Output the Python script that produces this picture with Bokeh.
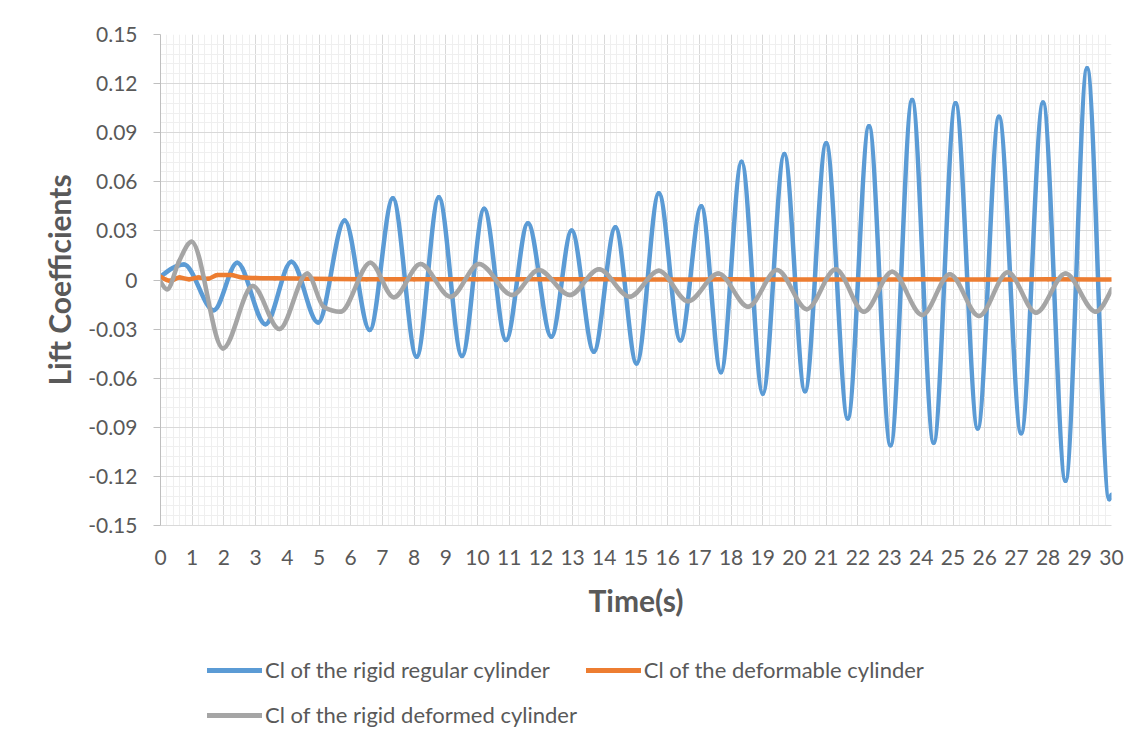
import numpy as np
from bokeh.plotting import figure
from bokeh.layouts import column
from bokeh.models import Range1d, FixedTicker, Legend, LegendItem, ColumnDataSource
from bokeh.embed import file_html
from bokeh.resources import INLINE

# ---- data (turning points of each curve) ----
rigid_regular_t = [0.0, 0.74, 1.68, 2.42, 3.31, 4.13, 4.97, 5.81, 6.6, 7.33, 8.08, 8.78,
                   9.51, 10.21, 10.9, 11.59, 12.33, 12.97, 13.67, 14.35, 15.02, 15.72,
                   16.4, 17.06, 17.68, 18.33, 19.0, 19.68, 20.33, 21.0, 21.68, 22.35,
                   23.03, 23.71, 24.39, 25.08, 25.78, 26.45, 27.15, 27.84, 28.55, 29.23,
                   29.93, 30.0]
rigid_regular_cl = [0.002, 0.0095, -0.0185, 0.0105, -0.027, 0.0112, -0.026, 0.0363,
                    -0.0306, 0.0499, -0.0469, 0.0505, -0.0465, 0.0435, -0.0367, 0.0347,
                    -0.0347, 0.0302, -0.0438, 0.0322, -0.051, 0.053, -0.037, 0.045,
                    -0.0563, 0.0723, -0.0695, 0.077, -0.068, 0.0836, -0.0846, 0.094,
                    -0.101, 0.110, -0.0994, 0.108, -0.0907, 0.0998, -0.0937, 0.1084,
                    -0.1227, 0.1294, -0.1340, -0.1312]

deformable_t = [0.0, 0.3, 0.6, 0.9, 1.2, 1.5, 1.8, 2.2, 2.6, 3.0, 3.6, 4.5, 5.5, 6.5,
                8.0, 10.0, 12.0, 14.0, 16.0, 18.0, 20.0, 22.0, 24.0, 26.0, 28.0, 30.0]
deformable_cl = [0.002, -0.0005, 0.0015, 0.0005, 0.0015, 0.0008, 0.003, 0.003, 0.0015,
                 0.0012, 0.001, 0.0008, 0.0006, 0.0005, 0.0004, 0.0005, 0.0004, 0.0004,
                 0.0003, 0.0004, 0.0003, 0.0003, 0.0004, 0.0003, 0.0004, 0.0003]

rigid_deformed_t = [0.0, 0.21, 0.58, 0.98, 1.97, 2.91, 3.75, 4.63, 5.15, 5.68, 6.62, 7.36,
                    8.2, 9.15, 10.05, 11.09, 11.93, 12.91, 13.83, 14.8, 15.72, 16.64,
                    17.6, 18.54, 19.45, 20.39, 21.3, 22.19, 23.08, 24.03, 24.9, 25.82,
                    26.73, 27.62, 28.55, 29.5, 30.0]
rigid_deformed_cl = [-0.001, -0.0057, 0.0112, 0.0234, -0.0418, -0.0037, -0.030, 0.004,
                     -0.0165, -0.0194, 0.0106, -0.0106, 0.0098, -0.0102, 0.0098, -0.0092,
                     0.0061, -0.0092, 0.0065, -0.0102, 0.0057, -0.013, 0.004, -0.0163,
                     0.0061, -0.0178, 0.0066, -0.0194, 0.0051, -0.0214, 0.0035, -0.022,
                     0.0047, -0.020, 0.004, -0.0194, -0.0057]

series_names = ["Cl of the rigid regular cylinder", "Cl of the deformable cylinder",
                "Cl of the rigid deformed cylinder"]

x_ticks = list(range(0, 31))
x_tick_labels = [str(i) for i in x_ticks]
y_ticks = [-0.15, -0.12, -0.09, -0.06, -0.03, 0, 0.03, 0.06, 0.09, 0.12, 0.15]
y_tick_labels = ["-0.15", "-0.12", "-0.09", "-0.06", "-0.03", "0", "0.03", "0.06",
                 "0.09", "0.12", "0.15"]

BLUE, ORANGE, GREY = "#5B9BD5", "#ED7D31", "#A5A5A5"
TEXT = "#595959"
FONT = "Lato"


def smooth_segments(xs, ys):
    """Monotone cubic (like a smoothed Excel line) expressed as Bezier segments."""
    x = np.asarray(xs, float)
    y = np.asarray(ys, float)
    n = len(x)
    h = np.diff(x)
    s = np.diff(y) / h
    m = np.zeros(n)
    for i in range(1, n - 1):
        h0, h1, s0, s1 = h[i - 1], h[i], s[i - 1], s[i]
        pp = (s0 * h1 + s1 * h0) / (h0 + h1)
        m[i] = (np.sign(s0) + np.sign(s1)) * min(abs(s0), abs(s1), 0.5 * abs(pp))
    m[0] = (3 * s[0] - m[1]) / 2
    m[-1] = (3 * s[-1] - m[-2]) / 2
    return ColumnDataSource(dict(
        x0=x[:-1], y0=y[:-1], x1=x[1:], y1=y[1:],
        cx0=x[:-1] + h / 3, cy0=y[:-1] + m[:-1] * h / 3,
        cx1=x[1:] - h / 3, cy1=y[1:] - m[1:] * h / 3,
    ))


W = 1127
H_MAIN = 640
H_LEG = 93

p = figure(width=W, height=H_MAIN, output_backend="svg", toolbar_location=None,
           x_range=Range1d(0, 30), y_range=Range1d(-0.15, 0.15),
           min_border_left=160, min_border_right=16, min_border_top=34,
           min_border_bottom=115)
p.outline_line_color = None
p.background_fill_color = "white"
p.border_fill_color = "white"

minor_x = [v / 5 for v in range(0, 151)]
minor_y = [v * 0.006 for v in range(-25, 26)]
p.xaxis.ticker = FixedTicker(ticks=x_ticks, minor_ticks=minor_x)
p.yaxis.ticker = FixedTicker(ticks=y_ticks, minor_ticks=minor_y)
p.xaxis.major_label_overrides = {t: l for t, l in zip(x_ticks, x_tick_labels)}
p.yaxis.major_label_overrides = {t: l for t, l in zip(y_ticks, y_tick_labels)}

for g in (p.xgrid, p.ygrid):
    g.grid_line_color = "#D9D9D9"
    g.grid_line_width = 1
    g.minor_grid_line_color = "#EFEFEF"
    g.minor_grid_line_width = 1

for ax in (p.xaxis, p.yaxis):
    ax.major_label_text_font = FONT
    ax.major_label_text_font_size = "21px"
    ax.major_label_text_color = TEXT
    ax.axis_label_text_font = FONT
    ax.axis_label_text_font_style = "bold"
    ax.axis_label_text_font_size = "30px"
    ax.axis_label_text_color = TEXT
    ax.minor_tick_line_color = None

p.xaxis.axis_line_color = "#D9D9D9"
p.xaxis.major_tick_line_color = None
p.xaxis.major_tick_out = 0
p.xaxis.major_label_standoff = 20
p.xaxis.axis_label = "Time(s)"
p.xaxis.axis_label_standoff = 14

p.yaxis.axis_line_color = "#BFBFBF"
p.yaxis.major_tick_line_color = "#BFBFBF"
p.yaxis.major_tick_out = 7
p.yaxis.major_tick_in = 0
p.yaxis.major_label_standoff = 16
p.yaxis.axis_label = "Lift Coefficients"
p.yaxis.axis_label_standoff = 8

# curves (drawn in Excel's series order)
for xs, ys, col in ((rigid_regular_t, rigid_regular_cl, BLUE),
                    (deformable_t, deformable_cl, ORANGE),
                    (rigid_deformed_t, rigid_deformed_cl, GREY)):
    p.bezier(x0="x0", y0="y0", x1="x1", y1="y1", cx0="cx0", cy0="cy0",
             cx1="cx1", cy1="cy1", source=smooth_segments(xs, ys),
             line_color=col, line_width=4.5, line_cap="round")

# ---- legend strip (a second, axis-less figure under the chart) ----
pl = figure(width=W, height=H_LEG, output_backend="svg", toolbar_location=None,
            x_range=Range1d(0, 1), y_range=Range1d(0, 1),
            x_axis_type=None, y_axis_type=None, min_border=0)
pl.outline_line_color = None
pl.grid.visible = False
pl.background_fill_color = "white"
pl.border_fill_color = "white"

# swatch renderers: their own points lie outside the strip's visible range
r_blue = pl.line(x=[-5, -4], y=[-5, -5], line_color=BLUE, line_width=5, line_cap="round")
r_orange = pl.line(x=[-5, -4], y=[-5, -5], line_color=ORANGE, line_width=5, line_cap="round")
r_grey = pl.line(x=[-5, -4], y=[-5, -5], line_color=GREY, line_width=5, line_cap="round")


def make_legend(items, loc):
    lg = Legend(items=items, location=loc, orientation="horizontal",
                glyph_width=55, glyph_height=20, label_standoff=3, spacing=36,
                padding=0, margin=0, border_line_color=None,
                background_fill_alpha=0, label_text_font=FONT,
                label_text_font_size="22px", label_text_color=TEXT,
                label_height=20)
    pl.add_layout(lg, "center")
    return lg


make_legend([LegendItem(label=series_names[0], renderers=[r_blue]),
             LegendItem(label=series_names[1], renderers=[r_orange])], (47, 50))
make_legend([LegendItem(label=series_names[2], renderers=[r_grey])], (47, 5))

layout = column(p, pl, spacing=0)
open("out.html", "w").write(file_html(layout, INLINE))
